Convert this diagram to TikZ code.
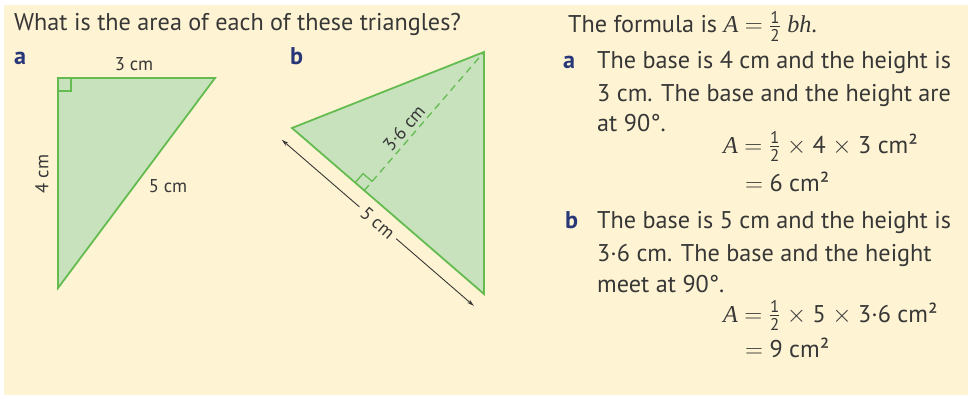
\documentclass[tikz,border=0pt]{standalone}
\usepackage{amsmath}
\usepackage{fontspec}
\setmainfont{PT Sans}
\newfontfamily\varfont{Liberation Serif}
\usetikzlibrary{calc,arrows.meta}

\definecolor{paper}{RGB}{254,243,210}
\definecolor{trifill}{RGB}{200,226,190}
\definecolor{triline}{RGB}{100,188,80}
\definecolor{ink}{RGB}{55,55,55}
\definecolor{partblue}{RGB}{40,55,120}

\newcommand{\half}{$\frac{\text{1}}{\text{2}}$}
\newcommand{\varA}{{\varfont\itshape A}}
\newcommand{\tms}{$\times$}

\tikzset{
  tri/.style={draw=triline,fill=trifill,line width=1.8pt},
  rightangle/.style={draw=triline,line width=1.3pt},
  dimlabel/.style={font=\fontsize{18.5}{20}\selectfont,text=ink,inner sep=1pt},
  txt/.style={anchor=base west,font=\fontsize{24.2}{28}\selectfont,text=ink,inner sep=0pt},
  part/.style={anchor=base west,font=\fontsize{24.2}{28}\selectfont\bfseries,text=partblue,inner sep=0pt},
}

\begin{document}
\begin{tikzpicture}[x=1pt,y=-1pt]
\fill[white] (0,0) rectangle (968,396);
\fill[paper] (4,5) rectangle (968,395);
\useasboundingbox (0,0) rectangle (968,396);

% question
\node[txt] (question) at (14,31) {What is the area of each of these triangles?};
\node[part] (parta) at (14,64) {a};
\node[part] (partb) at (290,64) {b};

% triangle a
\coordinate (atl) at (58,78);
\coordinate (atr) at (215,78);
\coordinate (abot) at (58,288);
\draw[tri] (atl) -- (atr) -- (abot) -- cycle;
\draw[rightangle] ($(atl)+(0,13)$) -| ($(atl)+(13,0)$);
\node[dimlabel] (athree) at (134,64) {3 cm};
\node[dimlabel,rotate=90] (afour) at (42,174) {4 cm};
\node[dimlabel] (afive) at (168,186) {5 cm};

% triangle b
\coordinate (bl) at (292,128);
\coordinate (bt) at (484,52);
\coordinate (br) at (484,294);
\coordinate (bf) at ($(bl)!(bt)!(br)$);
\draw[tri] (bl) -- (bt) -- (br) -- cycle;
\draw[rightangle,dash pattern=on 7pt off 5pt] (bf) -- (bt);
\coordinate (bu) at ($(bf)!12pt!(bl)$);
\coordinate (bv) at ($(bf)!12pt!(bt)$);
\draw[rightangle] (bu) -- ($(bu)+(bv)-(bf)$) -- (bv);
\node[dimlabel,rotate=49.2,anchor=south,inner sep=4pt] (bheight) at ($(bf)!0.4!(bt)$) {3·6 cm};
\coordinate (be1) at ($(bl)+(-10.2,11.8)$);
\coordinate (be2) at ($(br)+(-10.2,11.8)$);
\draw[{Stealth[length=7pt,width=4pt]}-{Stealth[length=7pt,width=4pt]},ink,line width=0.9pt] (be1) -- (be2);
\node[dimlabel,fill=paper,rotate=-40.8,inner sep=5pt] (bbase) at ($(be1)!0.5!(be2)$) {5 cm};

% answer
\node[txt] (formula) at (568,33) {The formula is \varA\ $=$ \half\ {\varfont\itshape bh}.};
\node[part] (ansa) at (563,68) {a};
\node[txt] (ansa1) at (597,68) {The base is 4 cm and the height is};
\node[txt] (ansa2) at (597,101) {3 cm. The base and the height are};
\node[txt] (ansa3) at (597,131) {at 90°.};
\node[txt] (ansa4) at (723,153) {\varA\ $=$ \half\ \tms\ 4 \tms\ 3 cm²};
\node[txt] (ansa5) at (745,191) {$=$ 6 cm²};
\node[part] (ansb) at (565,228) {b};
\node[txt] (ansb1) at (597,228) {The base is 5 cm and the height is};
\node[txt] (ansb2) at (597,261) {3·6 cm. The base and the height};
\node[txt] (ansb3) at (597,292) {meet at 90°.};
\node[txt] (ansb4) at (723,322) {\varA\ $=$ \half\ \tms\ 5 \tms\ 3·6 cm²};
\node[txt] (ansb5) at (745,357) {$=$ 9 cm²};
\end{tikzpicture}
\end{document}
